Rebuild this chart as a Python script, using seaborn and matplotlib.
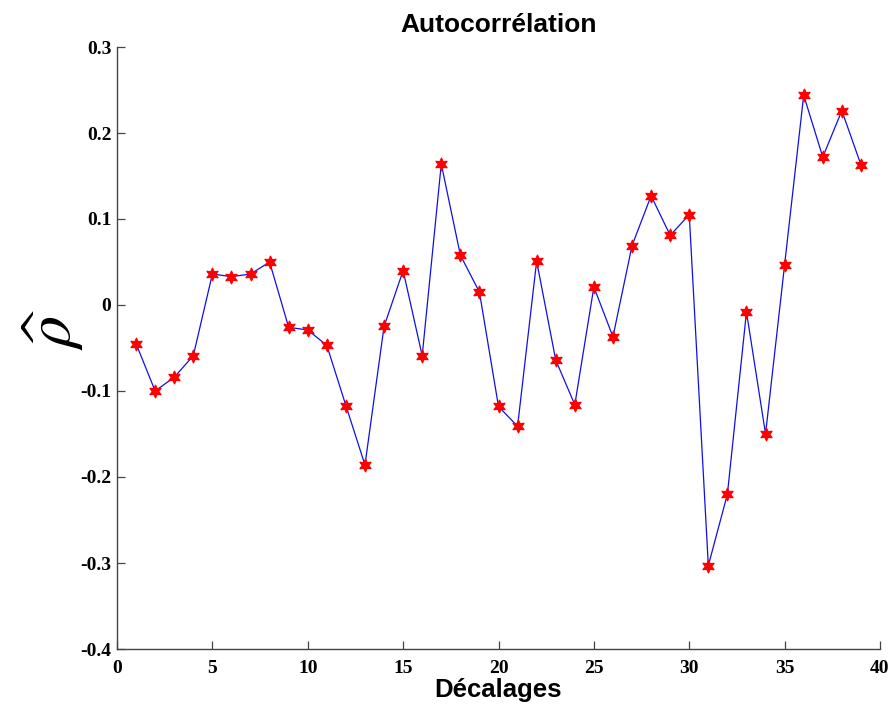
import numpy as np
import pandas as pd
import matplotlib
matplotlib.use("Agg")
import matplotlib.pyplot as plt
import seaborn as sns

# Sample autocorrelation of the series for lags 1..39
lags = list(range(1, 40))
rho = [-0.045, -0.100, -0.084, -0.059, 0.036, 0.033, 0.036, 0.050, -0.026, -0.029,
       -0.047, -0.117, -0.186, -0.025, 0.040, -0.059, 0.164, 0.058, 0.015, -0.118,
       -0.141, 0.051, -0.064, -0.116, 0.021, -0.037, 0.069, 0.127, 0.081, 0.105,
       -0.303, -0.220, -0.008, -0.150, 0.047, 0.244, 0.172, 0.226, 0.163]

x_ticks = [0, 5, 10, 15, 20, 25, 30, 35, 40]
y_ticks = [-0.4, -0.3, -0.2, -0.1, 0, 0.1, 0.2, 0.3]
y_tick_labels = ["-0.4", "-0.3", "-0.2", "-0.1", "0", "0.1", "0.2", "0.3"]

df = pd.DataFrame({"lag": lags, "rho": rho})

sns.set_style("white")
plt.rcParams["mathtext.fontset"] = "stix"
plt.rcParams["text.color"] = "black"
plt.rcParams["axes.labelcolor"] = "black"

fig = plt.figure(figsize=(8.93, 7.09), dpi=100)
ax = fig.add_axes([117 / 893, 1 - 649 / 709, 763 / 893, 602 / 709])

sns.lineplot(data=df, x="lag", y="rho", ax=ax, color="#1010e6", linewidth=0.9,
             marker=(6, 1, 0), markersize=9.5, markerfacecolor="red",
             markeredgecolor="red", markeredgewidth=0.8)

ax.set_xlim(0, 40)
ax.set_ylim(-0.4, 0.3)
ax.set_xticks(x_ticks)
ax.set_xticklabels([str(t) for t in x_ticks])
ax.set_yticks(y_ticks)
ax.set_yticklabels(y_tick_labels)

for lab in ax.get_xticklabels() + ax.get_yticklabels():
    lab.set_fontfamily("Liberation Serif")
    lab.set_fontweight("bold")
    lab.set_fontsize(14)
    lab.set_color("black")

ax.tick_params(axis="both", which="major", direction="in", length=6, width=0.9,
               color="#444444", bottom=True, left=True, top=False, right=False)
ax.tick_params(axis="x", pad=8)
ax.tick_params(axis="y", pad=4)

for side in ("top", "right"):
    ax.spines[side].set_visible(False)
for side in ("left", "bottom"):
    ax.spines[side].set_color("#444444")
    ax.spines[side].set_linewidth(1.0)

ax.set_title("Autocorrélation", fontfamily="Liberation Sans", fontweight="bold",
             fontsize=19, pad=11, color="black")
ax.set_xlabel("Décalages", fontfamily="Liberation Sans", fontweight="bold",
              fontsize=18.5, labelpad=1, color="black")
ax.set_ylabel(r"$\widehat{\rho}$", fontsize=46, color="black")
ax.yaxis.set_label_coords(-0.04, 0.53)

fig.savefig("out.png", dpi=100, facecolor="white")
